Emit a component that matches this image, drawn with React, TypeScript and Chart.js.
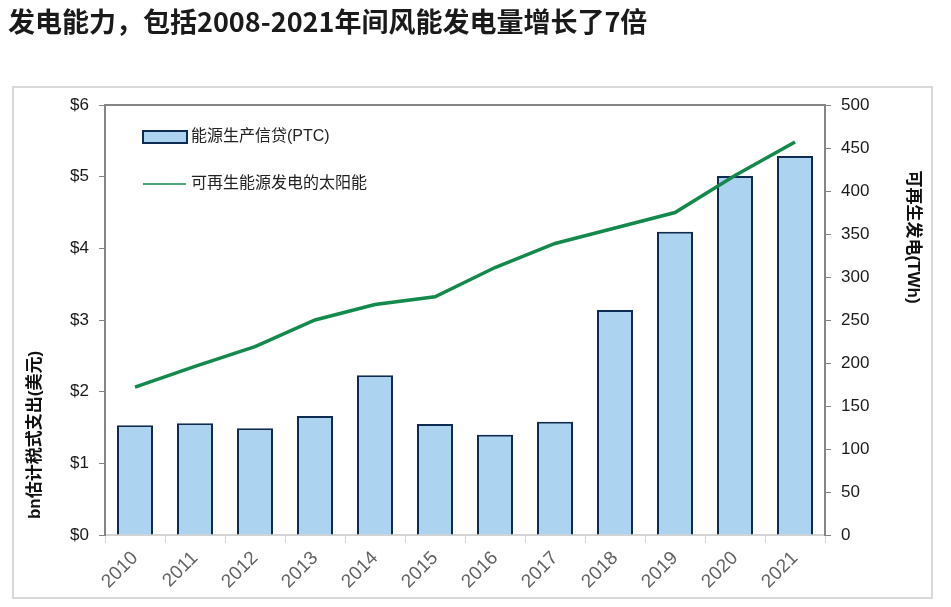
import React, { useEffect, useRef } from "react";
import { Chart, registerables } from "chart.js";

Chart.register(...registerables);

// Data
const years = ["2010", "2011", "2012", "2013", "2014", "2015", "2016", "2017", "2018", "2019", "2020", "2021"];
const ptcSpending = [1.53, 1.56, 1.49, 1.66, 2.23, 1.55, 1.4, 1.58, 3.14, 4.23, 5.01, 5.29];
const renewableTWh = [172, 196, 219, 250, 268, 277, 311, 339, 357, 375, 418, 457];
const leftTicks = [0, 1, 2, 3, 4, 5, 6];
const rightTicks = [0, 50, 100, 150, 200, 250, 300, 350, 400, 450, 500];

const titleText = "发电能力，包括2008-2021年间风能发电量增长了7倍";
const barLabel = "能源生产信贷(PTC)";
const lineLabel = "可再生能源发电的太阳能";
const leftAxisTitle = "bn估计税式支出(美元)";
const rightAxisTitle = "可再生发电(TWh)";

const BAR_FILL = "#acd3f0";
const BAR_EDGE = "#0e2c52";
const LINE_GREEN = "#138a4b";
const AXIS_GREY = "#858585";
const LIGHT_GREY = "#d4d4d4";
const FONT = "'Liberation Sans', Arial, 'Noto Sans CJK SC', sans-serif";
const CJK_BOLD = "'Noto Sans CJK SC', sans-serif";

const decorations = {
  id: "decorations",
  beforeDraw(chart: any) {
    const ctx = chart.ctx;
    ctx.save();
    ctx.fillStyle = "#ffffff";
    ctx.fillRect(0, 0, chart.width, chart.height);
    // outer frame
    ctx.strokeStyle = "#d9d9d9";
    ctx.lineWidth = 2;
    ctx.strokeRect(13, 87, 919, 511);
    // headline
    ctx.fillStyle = "#1a1a1a";
    ctx.font = `bold 27px ${CJK_BOLD}`;
    ctx.textBaseline = "middle";
    ctx.textAlign = "left";
    ctx.fillText(titleText, 8, 22);
    ctx.restore();
  },
  afterDraw(chart: any) {
    const ctx = chart.ctx;
    const area = chart.chartArea;
    ctx.save();
    // top border of the plot area
    ctx.strokeStyle = AXIS_GREY;
    ctx.lineWidth = 2;
    ctx.beginPath();
    ctx.moveTo(area.left, area.top);
    ctx.lineTo(area.right, area.top);
    ctx.stroke();

    // legend
    ctx.fillStyle = BAR_FILL;
    ctx.fillRect(143, 131, 44, 12);
    ctx.strokeStyle = BAR_EDGE;
    ctx.lineWidth = 2;
    ctx.strokeRect(143, 131, 44, 12);
    ctx.strokeStyle = LINE_GREEN;
    ctx.lineWidth = 1.5;
    ctx.beginPath();
    ctx.moveTo(143, 184);
    ctx.lineTo(186, 184);
    ctx.stroke();
    ctx.fillStyle = "#222222";
    ctx.font = `16px ${FONT}`;
    ctx.textBaseline = "middle";
    ctx.textAlign = "left";
    ctx.fillText(barLabel, 191, 137);
    ctx.fillText(lineLabel, 191, 184);

    // axis titles
    ctx.font = `bold 17px ${FONT}`;
    ctx.fillStyle = "#111111";
    ctx.textAlign = "center";
    ctx.save();
    ctx.translate(35, 435);
    ctx.rotate(-Math.PI / 2);
    ctx.fillText(leftAxisTitle, 0, 0);
    ctx.restore();
    ctx.save();
    ctx.translate(913, 237);
    ctx.rotate(Math.PI / 2);
    ctx.fillText(rightAxisTitle, 0, 0);
    ctx.restore();
    ctx.restore();
  },
};

export default function App() {
  const canvasRef = useRef<HTMLCanvasElement | null>(null);

  useEffect(() => {
    if (!canvasRef.current) return;
    const chart = new Chart(canvasRef.current, {
      type: "bar",
      data: {
        labels: years,
        datasets: [
          {
            type: "line",
            label: lineLabel,
            data: renewableTWh,
            yAxisID: "y1",
            borderColor: LINE_GREEN,
            backgroundColor: LINE_GREEN,
            borderWidth: 3.5,
            pointRadius: 0,
            tension: 0,
            order: 0,
          } as any,
          {
            type: "bar",
            label: barLabel,
            data: ptcSpending,
            yAxisID: "y",
            backgroundColor: BAR_FILL,
            borderColor: BAR_EDGE,
            borderWidth: 2,
            categoryPercentage: 1,
            barPercentage: 0.6,
            order: 1,
          },
        ],
      },
      options: {
        responsive: false,
        animation: false,
        layout: { padding: { top: 105, left: 0, right: 0, bottom: 0 } },
        plugins: {
          legend: { display: false },
          title: { display: false },
          tooltip: { enabled: false },
        },
        scales: {
          x: {
            offset: true,
            grid: {
              offset: true,
              drawOnChartArea: false,
              drawTicks: true,
              tickLength: 8,
              color: LIGHT_GREY,
            },
            border: { color: LIGHT_GREY, width: 2 },
            ticks: {
              minRotation: 45,
              maxRotation: 45,
              color: "#626262",
              font: { size: 19, family: FONT },
              padding: 4,
            },
            afterFit(scale: any) {
              scale.height = 72;
            },
          },
          y: {
            position: "left",
            min: 0,
            max: 6,
            afterBuildTicks(scale: any) {
              scale.ticks = leftTicks.map((v) => ({ value: v }));
            },
            ticks: {
              color: "#1a1a1a",
              font: { size: 17, family: FONT },
              padding: 10,
              callback: (v: any) => "$" + v,
            },
            grid: {
              drawOnChartArea: false,
              drawTicks: true,
              tickLength: 6,
              color: AXIS_GREY,
            },
            border: { color: AXIS_GREY, width: 2 },
            afterFit(scale: any) {
              scale.width = 105;
            },
          },
          y1: {
            position: "right",
            min: 0,
            max: 500,
            afterBuildTicks(scale: any) {
              scale.ticks = rightTicks.map((v) => ({ value: v }));
            },
            ticks: {
              color: "#1a1a1a",
              font: { size: 17, family: FONT },
              padding: 10,
            },
            grid: {
              drawOnChartArea: false,
              drawTicks: true,
              tickLength: 6,
              color: AXIS_GREY,
            },
            border: { color: AXIS_GREY, width: 2 },
            afterFit(scale: any) {
              scale.width = 126;
            },
          },
        },
      } as any,
      plugins: [decorations],
    });
    return () => chart.destroy();
  }, []);

  return (
    <div style={{ position: "absolute", left: 0, top: 0, width: 951, height: 607 }}>
      <canvas ref={canvasRef} width={951} height={607} style={{ display: "block" }} />
    </div>
  );
}
